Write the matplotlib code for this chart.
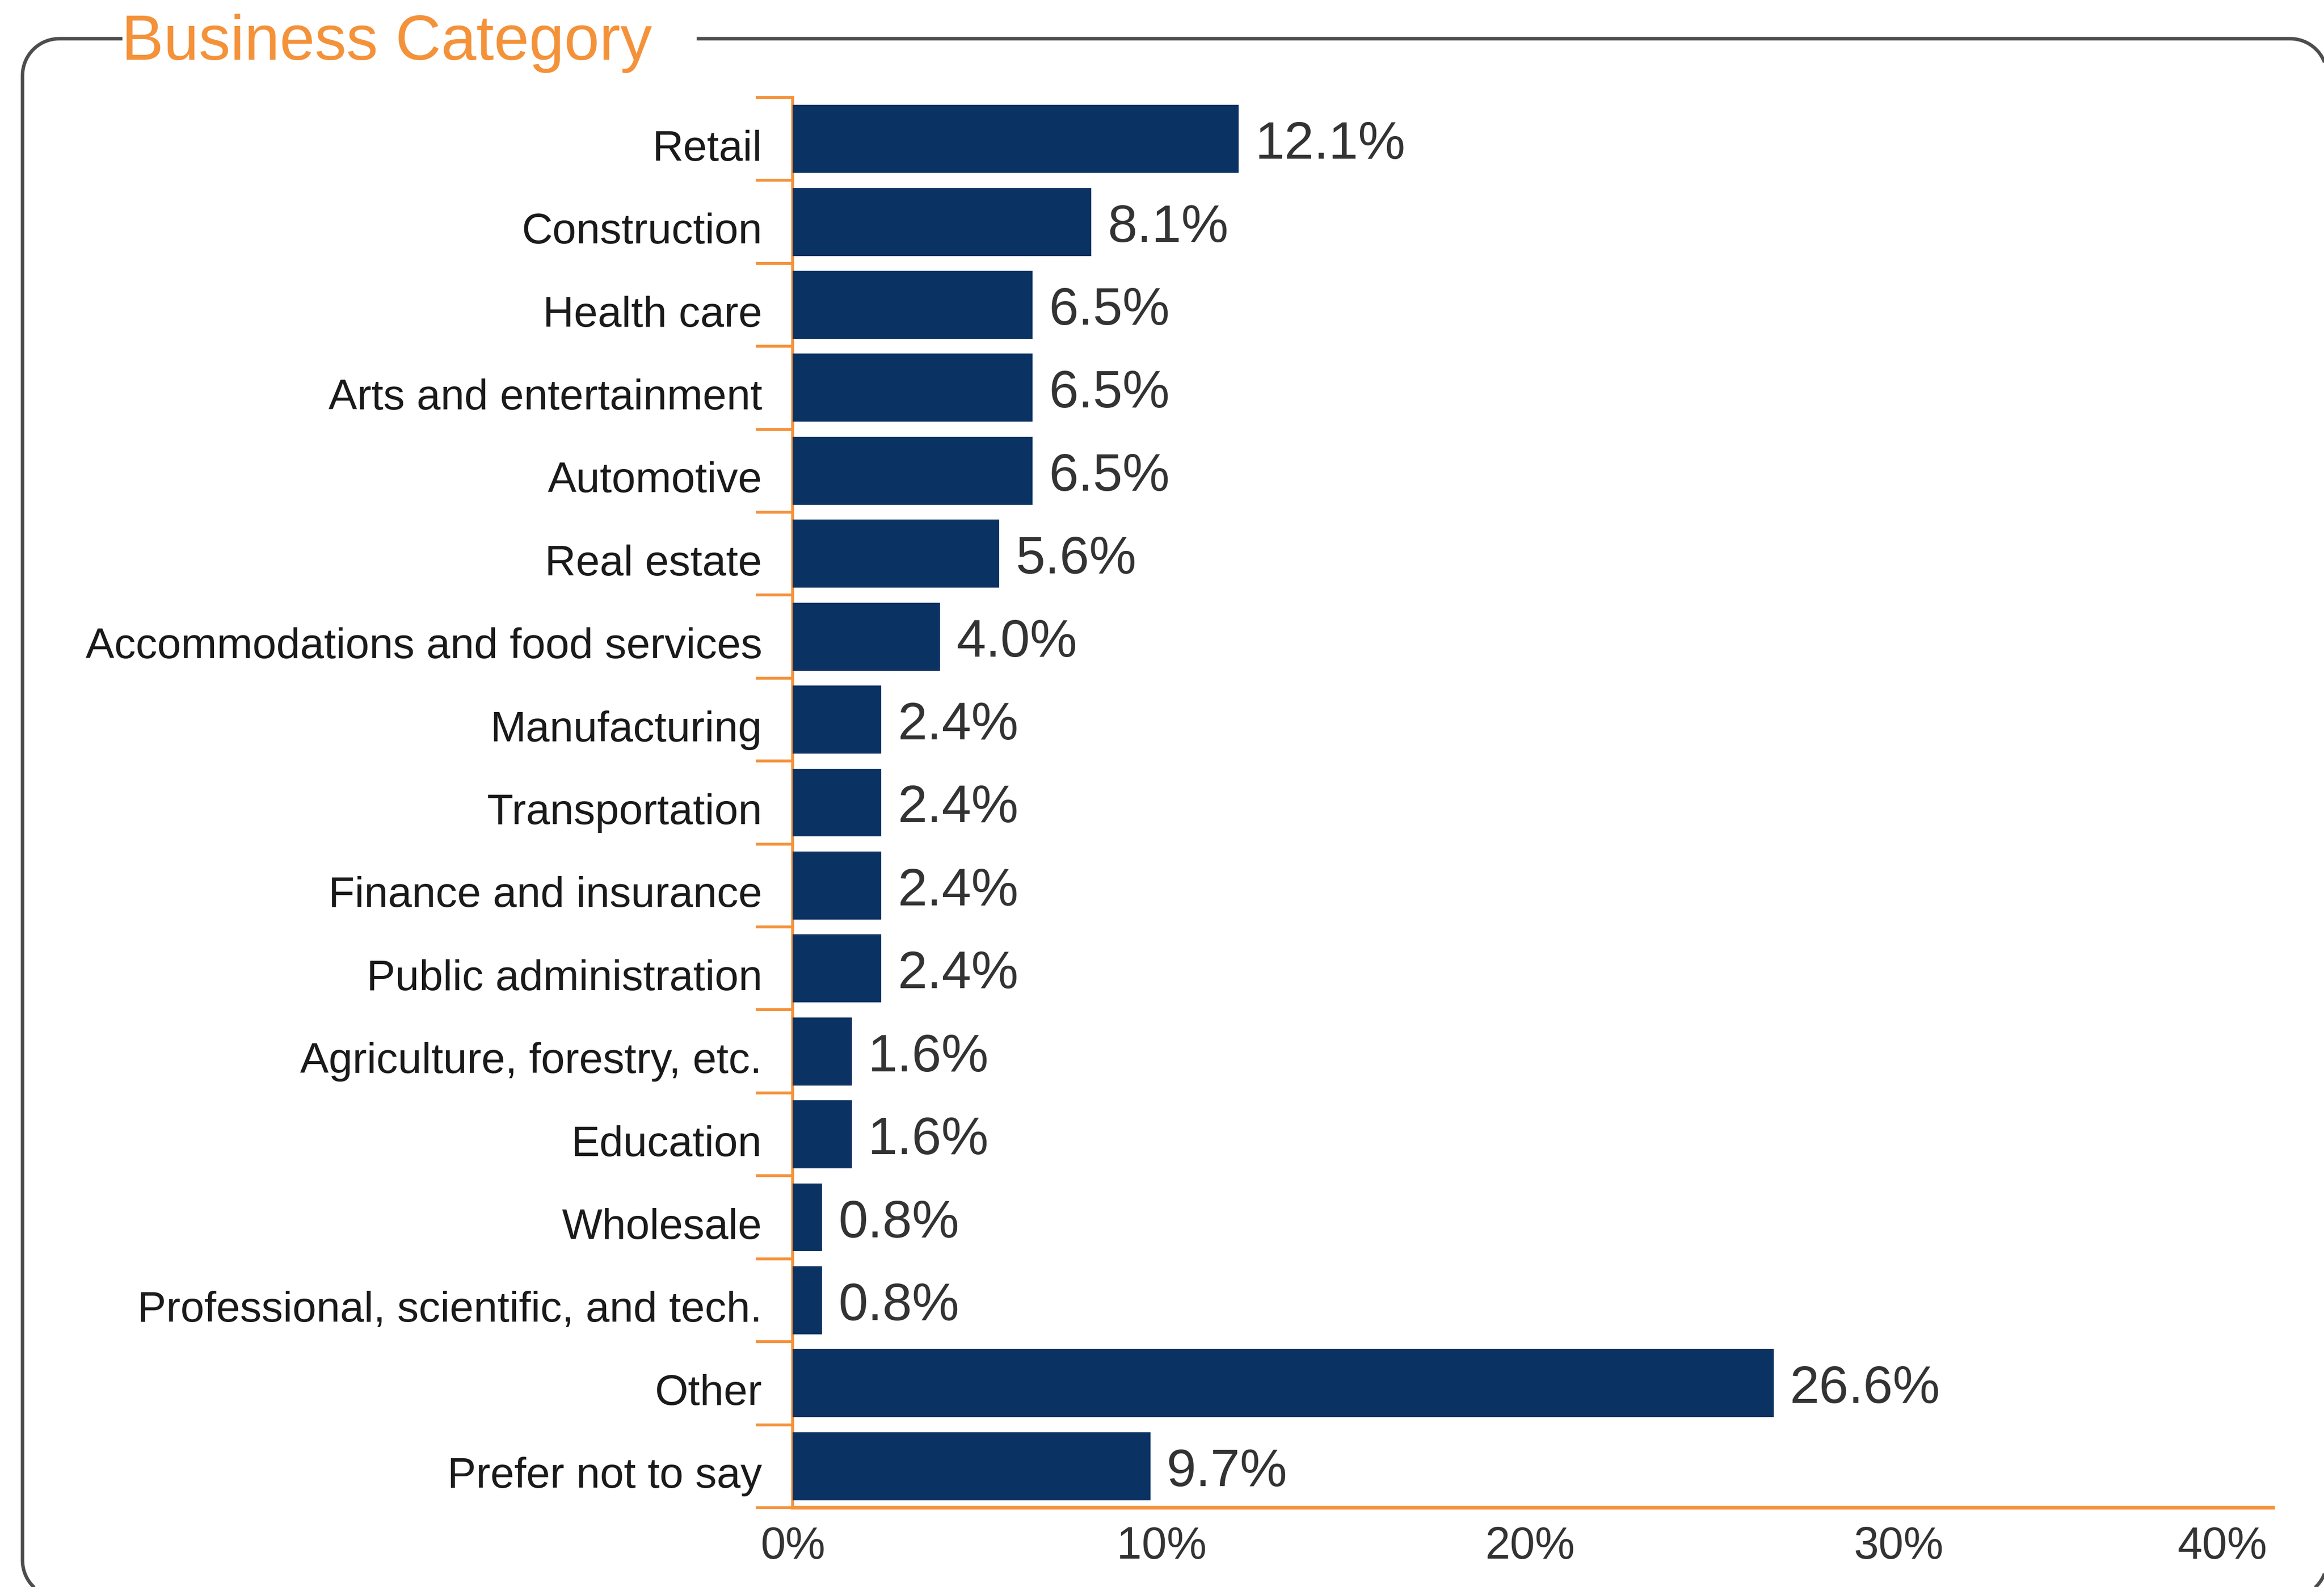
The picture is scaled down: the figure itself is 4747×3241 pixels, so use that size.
import numpy as np
import matplotlib.pyplot as plt
from matplotlib.path import Path
from matplotlib.patches import PathPatch
from matplotlib.transforms import ScaledTranslation

# Share of respondents by business category (%)
categories = ['Retail', 'Construction', 'Health care', 'Arts and entertainment',
              'Automotive', 'Real estate', 'Accommodations and food services',
              'Manufacturing', 'Transportation', 'Finance and insurance',
              'Public administration', 'Agriculture, forestry, etc.', 'Education',
              'Wholesale', 'Professional, scientific, and tech.', 'Other',
              'Prefer not to say']
shares = [12.1, 8.1, 6.5, 6.5, 6.5, 5.6, 4.0, 2.4, 2.4, 2.4, 2.4, 1.6, 1.6,
          0.8, 0.8, 26.6, 9.7]
x_ticks = [0, 10, 20, 30, 40]

navy = '#0a3262'
orange = '#f4923a'
plt.rcParams['font.family'] = ['Liberation Sans', 'DejaVu Sans']

W, H, DPI = 4747, 3241, 300
fig = plt.figure(figsize=(W / DPI, H / DPI), dpi=DPI)
ax = fig.add_axes([0.3411, 0.05, 0.9781 - 0.3411, 0.9386 - 0.05])

y = np.arange(len(categories))
ax.barh(y, shares, height=0.82, color=navy, zorder=3)
for yi, v in zip(y, shares):
    ax.annotate(f'{v:.1f}%', (v, yi), xytext=(8, -3), textcoords='offset points',
                va='center', ha='left', fontsize=26, color='#333333')

ax.set_xlim(0, 40.15)
ax.set_ylim(len(categories) - 0.5, -0.5)
ax.set_yticks(y)
ax.set_yticklabels(categories, fontsize=21, color='#1a1a1a')
ax.set_yticks(np.arange(-0.5, len(categories)), minor=True)
ax.tick_params(axis='y', which='major', length=0, pad=15)
ax.tick_params(axis='y', which='minor', length=18, width=1.4, color=orange)
ax.set_xticks(x_ticks)
ax.set_xticklabels([f'{t}%' for t in x_ticks], fontsize=22, color='#333333')
ax.get_xticklabels()[-1].set_horizontalalignment('right')
ax.tick_params(axis='x', length=0, pad=9)

# nudge category labels down so they line up with the value labels
shift = ScaledTranslation(0, -3 / 72, fig.dpi_scale_trans)
for lab in ax.get_yticklabels():
    lab.set_transform(lab.get_transform() + shift)

for side in ['top', 'right']:
    ax.spines[side].set_visible(False)
ax.spines['left'].set_color(orange)
ax.spines['left'].set_linewidth(1.4)
ax.spines['bottom'].set_color(orange)
ax.spines['bottom'].set_linewidth(1.8)


def arc(cx, cy, r, a0, a1, n=20):
    t = np.radians(np.linspace(a0, a1, n))
    return list(zip(cx + r * np.cos(t), cy + r * np.sin(t)))


# rounded frame (pixel units, y measured from the top), open where the heading sits
left, top, right, bottom, r = 46, 79, 4753, 3262, 75
gap_l, gap_r = 250, 1423
pts = [(gap_l, top)]
pts += arc(left + r, top + r, r, 270, 180)
pts += arc(left + r, bottom - r, r, 180, 90)
pts += arc(right - r, bottom - r, r, 90, 0)
pts += arc(right - r, top + r, r, 0, -90)
pts += [(gap_r, top)]
pts = np.array(pts, dtype=float)
pts = np.column_stack([pts[:, 0] / DPI, (H - pts[:, 1]) / DPI])
frame = PathPatch(Path(pts), transform=fig.dpi_scale_trans, facecolor='none',
                  edgecolor='#4d4d4d', linewidth=1.7, capstyle='butt')
fig.patches.append(frame)

fig.text(248 / W, 1 - 122 / H, 'Business Category', fontsize=31,
         color=orange, ha='left', va='baseline')

fig.savefig('out.png', dpi=DPI, facecolor='white')
